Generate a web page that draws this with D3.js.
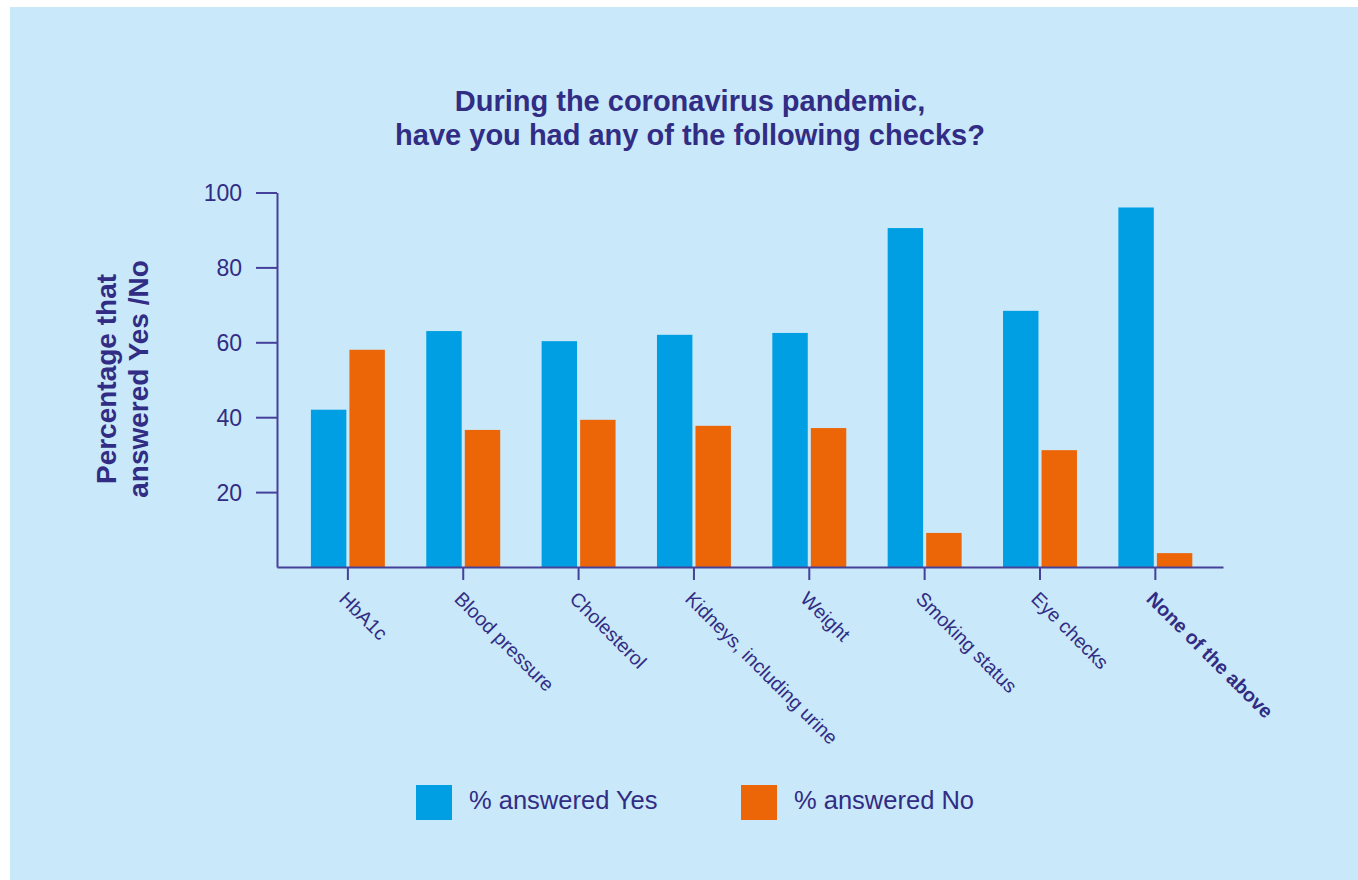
<!DOCTYPE html>
<html>
<head>
<meta charset="utf-8">
<script src="https://cdn.jsdelivr.net/npm/d3@7"></script>
<style>
  body { margin: 0; background: #ffffff; }
  svg { display: block; font-family: "Liberation Sans", Arial, Helvetica, sans-serif; }
</style>
</head>
<body>
<svg width="1358" height="880"></svg>
<script>
// data
var categories = ["HbA1c", "Blood pressure", "Cholesterol", "Kidneys, including urine",
                  "Weight", "Smoking status", "Eye checks", "None of the above"];
var yesValues = [42, 63, 60.3, 62, 62.5, 90.5, 68.4, 96];
var noValues  = [58, 36.6, 39.3, 37.7, 37.1, 9.1, 31.2, 3.7];
var seriesNames = ["% answered Yes", "% answered No"];
var yTicks = [20, 40, 60, 80, 100];
var boldCategory = "None of the above";

var textColor = "#312c84";
var axisColor = "#45419a";
var colors = ["#009fe3", "#ec6608"];

var svg = d3.select("svg");

// light blue panel
svg.append("rect")
  .attr("x", 10).attr("y", 7)
  .attr("width", 1348).attr("height", 873)
  .attr("fill", "#c9e8f9");

// title
var title = svg.append("text")
  .attr("text-anchor", "middle")
  .attr("fill", textColor)
  .style("font-size", "29px")
  .style("font-weight", "bold");
title.append("tspan").attr("x", 690).attr("y", 111).text("During the coronavirus pandemic,");
title.append("tspan").attr("x", 690).attr("y", 145).text("have you had any of the following checks?");

// scales
var x0 = d3.scaleBand()
  .domain(categories)
  .range([277, 1223])
  .paddingInner(0.359)
  .paddingOuter(0.28)
  .align(0.525);

var x1 = d3.scaleBand()
  .domain([0, 1])
  .range([0, x0.bandwidth()])
  .paddingInner(0.08);

var y = d3.scaleLinear()
  .domain([0, 100])
  .range([567, 192.5]);

// bars
var groups = svg.selectAll(".group")
  .data(categories)
  .enter().append("g")
  .attr("class", "group")
  .attr("transform", function(d) { return "translate(" + x0(d) + ",0)"; });

groups.selectAll("rect")
  .data(function(d, i) { return [yesValues[i], noValues[i]]; })
  .enter().append("rect")
  .attr("x", function(d, j) { return x1(j); })
  .attr("width", x1.bandwidth())
  .attr("y", function(d) { return y(d); })
  .attr("height", function(d) { return y(0) - y(d); })
  .attr("fill", function(d, j) { return colors[j]; });

// y axis
var yAxis = svg.append("g")
  .attr("transform", "translate(277,0)")
  .call(d3.axisLeft(y).tickValues(yTicks).tickSize(21).tickSizeOuter(0).tickPadding(14));
yAxis.select(".domain").attr("stroke", axisColor).attr("stroke-width", 2);
yAxis.selectAll(".tick line").attr("stroke", axisColor).attr("stroke-width", 2);
yAxis.selectAll(".tick text")
  .attr("fill", textColor)
  .style("font-size", "23px")
  .attr("dy", "0.36em");

// x axis
var xAxis = svg.append("g")
  .attr("transform", "translate(0,567)")
  .call(d3.axisBottom(x0).tickSize(13).tickSizeOuter(0));
xAxis.select(".domain").attr("stroke", axisColor).attr("stroke-width", 2);
xAxis.selectAll(".tick line").attr("stroke", axisColor).attr("stroke-width", 2);
xAxis.selectAll(".tick text")
  .attr("fill", textColor)
  .attr("text-anchor", "start")
  .attr("x", null).attr("y", null).attr("dy", null)
  .attr("transform", "translate(-10,33) rotate(45)")
  .style("font-size", "19.5px")
  .style("font-weight", function(d) { return d === boldCategory ? "bold" : "normal"; });

// y axis title (two lines, rotated)
var yTitle = svg.append("text")
  .attr("transform", "translate(0,379) rotate(-90)")
  .attr("text-anchor", "middle")
  .attr("fill", textColor)
  .style("font-size", "28px")
  .style("font-weight", "bold");
yTitle.append("tspan").attr("x", 0).attr("y", 116).text("Percentage that");
yTitle.append("tspan").attr("x", 0).attr("y", 148).text("answered Yes /No");

// legend
var legendX = [416, 741];
var legend = svg.selectAll(".legend")
  .data(seriesNames)
  .enter().append("g")
  .attr("class", "legend")
  .attr("transform", function(d, i) { return "translate(" + legendX[i] + ",785)"; });

legend.append("rect")
  .attr("width", 36)
  .attr("height", 35)
  .attr("fill", function(d, i) { return colors[i]; });

legend.append("text")
  .attr("x", 53)
  .attr("y", 24)
  .attr("fill", textColor)
  .style("font-size", "25.5px")
  .text(function(d) { return d; });
</script>
</body>
</html>
